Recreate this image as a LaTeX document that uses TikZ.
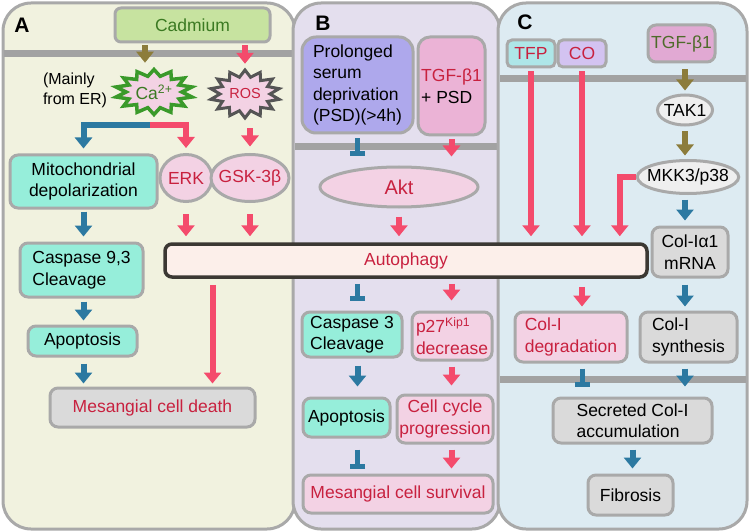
\documentclass[tikz,border=0pt]{standalone}
\usepackage{fontspec}
\setmainfont{Liberation Sans}
\usetikzlibrary{arrows.meta, shapes.geometric}
\definecolor{xframe}{HTML}{A9A9A9}
\definecolor{xmembrane}{HTML}{A2A2A2}
\definecolor{xpanela}{HTML}{F1F2DF}
\definecolor{xpanelb}{HTML}{E4DFEE}
\definecolor{xpanelc}{HTML}{DDEBF2}
\definecolor{xpink}{HTML}{F44B6C}
\definecolor{xblue}{HTML}{2C79A1}
\definecolor{xolive}{HTML}{8C7C3B}
\definecolor{xredtext}{HTML}{C8213F}
\definecolor{xgreentext}{HTML}{3B7A22}
\definecolor{xolivetext}{HTML}{4E6B2A}
\definecolor{xstargreen}{HTML}{3A9A2A}
\definecolor{xstargray}{HTML}{555555}
\definecolor{xaqua}{HTML}{96EEDA}
\definecolor{xpinkbox}{HTML}{F3D2E4}
\definecolor{xgraybox}{HTML}{DADADA}
\definecolor{xpsd}{HTML}{AEA8EC}
\definecolor{xtgfpsd}{HTML}{EBB3D6}
\definecolor{xtgfc}{HTML}{E1A9D3}
\definecolor{xtfp}{HTML}{AEE6E8}
\definecolor{xco}{HTML}{D3C3F1}
\definecolor{xcad}{HTML}{C7E3A0}
\definecolor{xellip}{HTML}{EFEFEF}
\definecolor{xauto}{HTML}{FCEFEA}
\definecolor{xautoframe}{HTML}{3B3833}
\tikzset{
  panel/.style = {draw=xframe, line width=3pt, fill=#1, rounded corners=28pt},
  membrane/.style = {draw=xmembrane, line width=7pt},
  box/.style = {draw=xframe, line width=3pt, fill=#1, rounded corners=8pt, align=center, inner sep=2pt},
  box/.default = xgraybox,
  blob/.style = {ellipse, draw=xframe, line width=3pt, fill=#1, inner xsep=-5pt, inner ysep=1pt},
  spiky/.style = {star, star points=14, star point ratio=1.4, draw=#1, line width=3.5pt, fill=xpinkbox, inner sep=0pt},
  activate/.style = {draw=#1, line width=6pt, -{Triangle[length=11pt, width=17pt]}, shorten <=4pt, shorten >=5pt},
  inhibit/.style = {draw=xblue, line width=5pt, -{Bar[width=15pt, line width=5pt]}, shorten <=4pt, shorten >=8pt},
  tag/.style = {font=\fontsize{21}{21}\selectfont\bfseries},
}
\begin{document}
\begin{tikzpicture}[x=1pt, y=-1pt, font=\fontsize{17.5}{21.5}\selectfont]
  \useasboundingbox (0,0) rectangle (750,532);
  % the three panels and their membranes
  \draw[panel=xpanela] (3,3) rectangle (295,529);
  \draw[membrane] (4,54) -- (294,54);
  \draw[panel=xpanelb] (293,3) rectangle (500,529);
  \draw[membrane] (295,147) -- (499,147);
  \draw[panel=xpanelc] (498,3) rectangle (747,529);
  \draw[membrane] (500,79) -- (746,79);
  \draw[membrane] (500,379) -- (746,379);

  % panel A
  \node[tag] (taga) at (22,25) {A};
  \node[box=xcad, text=xgreentext, minimum width=155pt, minimum height=34pt, rounded corners=6pt] (cad) at (192.5,25) {Cadmium};
  \begin{scope}[shift={(154,92)}, xscale=1.73]
    \node[spiky=xstargreen, minimum size=45pt, transform shape] (cab) at (0,0) {};
  \end{scope}
  \node[text=xgreentext] (ca) at (cab) {Ca\textsuperscript{2+}};
  \begin{scope}[shift={(245,94)}, xscale=1.46]
    \node[spiky=xstargray, line width=3pt, minimum size=48pt, transform shape] (rosb) at (0,0) {};
  \end{scope}
  \node[text=xredtext, font=\fontsize{14.5}{16}\selectfont] (ros) at (rosb) {ROS};
  \node[align=left, font=\fontsize{16}{20}\selectfont] (mainly) at (75,90) {(Mainly\\from ER)};
  \node[box=xaqua, minimum width=147pt, minimum height=53pt] (mito) at (83.5,181.5) {Mitochondrial\\depolarization};
  \node[blob=xpinkbox, text=xredtext, minimum width=52pt, minimum height=47pt] (erk) at (186,178) {ERK};
  \node[blob=xpinkbox, text=xredtext, minimum width=78pt, minimum height=47pt] (gsk) at (250,178) {GSK-3β};
  \node[box=xaqua, align=left, minimum width=123pt, minimum height=54pt] (cas) at (81.5,270) {Caspase 9,3\\Cleavage};
  \node[box=xaqua, minimum width=109pt, minimum height=30pt] (apoa) at (82.5,341) {Apoptosis};
  \node[box, text=xredtext, minimum width=205pt, minimum height=39pt] (death) at (152.5,407.5) {Mesangial cell death};

  % panel B
  \node[tag] (tagb) at (323,23) {B};
  \node[box=xpsd, align=left, minimum width=111pt, minimum height=96pt, rounded corners=14pt] (psd) at (357.5,85) {Prolonged\\serum\\deprivation\\(PSD)(>4h)};
  \node[box=xtgfpsd, align=left, minimum width=67pt, minimum height=98pt, rounded corners=12pt] (tgfpsd) at (451.5,86) {\textcolor{xredtext}{TGF-β1}\\+ PSD};
  \node[blob=xpinkbox, text=xredtext, minimum width=158pt, minimum height=40pt, font=\fontsize{20}{24}\selectfont] (akt) at (399,187) {Akt};
  \node[box=xaqua, align=left, minimum width=100pt, minimum height=45pt] (cas3) at (352,334.5) {Caspase 3\\Cleavage};
  \node[box=xpinkbox, text=xredtext, align=left, minimum width=80pt, minimum height=48pt] (p27) at (452,336) {p27\textsuperscript{Kip1}\\decrease};
  \node[box=xaqua, minimum width=87pt, minimum height=39pt] (apob) at (346.5,417.5) {Apoptosis};
  \node[box=xpinkbox, text=xredtext, minimum width=96pt, minimum height=48pt] (ccp) at (445,419) {Cell cycle\\progression};
  \node[box=xpinkbox, text=xredtext, minimum width=190pt, minimum height=38pt] (survival) at (398,494) {Mesangial cell survival};

  % panel C
  \node[tag] (tagc) at (525,22) {C};
  \node[box=xtfp, text=xredtext, minimum width=48pt, minimum height=27pt, rounded corners=5pt] (tfp) at (531,53.5) {TFP};
  \node[box=xco, text=xredtext, minimum width=48pt, minimum height=27pt, rounded corners=5pt] (co) at (582,53.5) {CO};
  \node[box=xtgfc, text=xolivetext, minimum width=67pt, minimum height=37pt] (tgfc) at (681.5,43.5) {TGF-β1};
  \node[blob=xellip, minimum width=55pt, minimum height=30pt] (tak1) at (685,110) {TAK1};
  \node[blob=xellip, minimum width=100pt, minimum height=33pt] (mkk) at (688,177) {MKK3/p38};
  \node[box, minimum width=76pt, minimum height=50pt] (colm) at (690,252) {Col-Iα1\\mRNA};
  \node[box=xpinkbox, text=xredtext, align=left, minimum width=112pt, minimum height=50pt] (coldeg) at (571,337) {Col-I\\degradation};
  \node[box, align=left, minimum width=97pt, minimum height=50pt] (colsyn) at (688.5,337) {Col-I\\synthesis};
  \node[box, align=left, minimum width=159pt, minimum height=45pt] (secr) at (632.5,420.5) {Secreted Col-I\\accumulation};
  \node[box, minimum width=85pt, minimum height=40pt] (fib) at (630.5,495) {Fibrosis};

  % autophagy runs across all panels
  \node[box=xauto, draw=xautoframe, line width=3.5pt, rounded corners=7pt, text=xredtext, minimum width=482pt, minimum height=33pt] (auto) at (406,260.5) {Autophagy};

  % connectors, panel A
  \draw[activate=xolive, shorten <=2pt, shorten >=3pt] ([xshift=-9pt]cad.south -| cab.north) -- ([xshift=-9pt]cab.north);
  \draw[activate=xpink, shorten <=2pt, shorten >=3pt] (cad.south -| rosb.north) -- (rosb.north);
  \coordinate (split) at (150,125);
  \draw[activate=xblue, shorten <=0pt] (split) -| (mito.north);
  \draw[activate=xpink, shorten <=0pt] (split) -| (erk.north);
  \draw[activate=xpink, shorten <=7pt, shorten >=6.5pt] (rosb.south -| gsk.north) -- (gsk.north);
  \draw[activate=xblue, shorten <=2pt] (mito.south) -- (mito.south |- cas.north);
  \draw[activate=xpink, shorten <=11pt, shorten >=6pt] (erk.south) -- (erk.south |- auto.north);
  \draw[activate=xpink, shorten <=11pt, shorten >=6pt] (gsk.south) -- (gsk.south |- auto.north);
  \draw[activate=xblue, shorten <=3pt, shorten >=4pt] (cas.south -| mito.south) -- (apoa.north -| mito.south);
  \draw[activate=xblue, shorten <=6pt, shorten >=3pt] (apoa.south -| mito.south) -- (death.north -| mito.south);
  \draw[activate=xpink, shorten <=6pt, shorten >=3pt] ([xshift=60pt]death.north |- auto.south) -- ([xshift=60pt]death.north);

  % connectors, panel B
  \draw[inhibit, shorten <=4pt, shorten >=9pt] (psd.south) -- (psd.south |- akt.north);
  \draw[activate=xpink, shorten <=3pt, shorten >=9pt] (tgfpsd.south) -- (tgfpsd.south |- akt.north);
  \draw[activate=xpink, shorten <=8pt, shorten >=6pt] (akt.south) -- (akt.south |- auto.north);
  \draw[inhibit, shorten <=5pt, shorten >=10pt] (auto.south -| psd.south) -- (cas3.north -| psd.south);
  \draw[activate=xpink, shorten <=5pt, shorten >=10pt] (auto.south -| tgfpsd.south) -- (p27.north -| tgfpsd.south);
  \draw[activate=xblue, shorten <=7pt, shorten >=10pt] (cas3.south -| psd.south) -- (apob.north -| psd.south);
  \draw[activate=xpink, shorten <=5pt, shorten >=8pt] (p27.south -| tgfpsd.south) -- (ccp.north -| tgfpsd.south);
  \draw[inhibit, shorten <=11pt, shorten >=5pt] (apob.south -| psd.south) -- (survival.north -| psd.south);
  \draw[activate=xpink, shorten <=5pt, shorten >=5pt] (ccp.south -| tgfpsd.south) -- (survival.north -| tgfpsd.south);

  % connectors, panel C
  \draw[activate=xolive, shorten <=6pt, shorten >=3pt] (tgfc.south -| tak1.north) -- (tak1.north);
  \draw[activate=xolive, shorten <=5pt, shorten >=3.5pt] (tak1.south) -- (tak1.south |- mkk.north);
  \draw[activate=xpink, shorten <=3pt, shorten >=6pt] (tfp.south) -- (tfp.south |- auto.north);
  \draw[activate=xpink, shorten <=3pt, shorten >=6pt] (co.south) -- (co.south |- auto.north);
  \draw[activate=xpink, shorten <=0pt, shorten >=6pt] (mkk.west) -| ([xshift=-16pt]mkk.west |- auto.north);
  \draw[activate=xblue, shorten <=4.5pt] (mkk.south -| tak1.south) -- (colm.north -| tak1.south);
  \draw[activate=xpink, shorten <=8pt, shorten >=4pt] (auto.south -| co.south) -- (coldeg.north -| co.south);
  \draw[activate=xblue, shorten <=6pt, shorten >=4pt] (colm.south -| tak1.south) -- (colsyn.north -| tak1.south);
  \draw[inhibit, shorten <=5pt, shorten >=10pt] (coldeg.south -| co.south) -- (secr.north -| co.south);
  \draw[activate=xblue, shorten <=5pt, shorten >=10pt] (colsyn.south -| tak1.south) -- (secr.north -| tak1.south);
  \draw[activate=xblue, shorten <=5pt, shorten >=5pt] (secr.south) -- (secr.south |- fib.north);
\end{tikzpicture}
\end{document}
